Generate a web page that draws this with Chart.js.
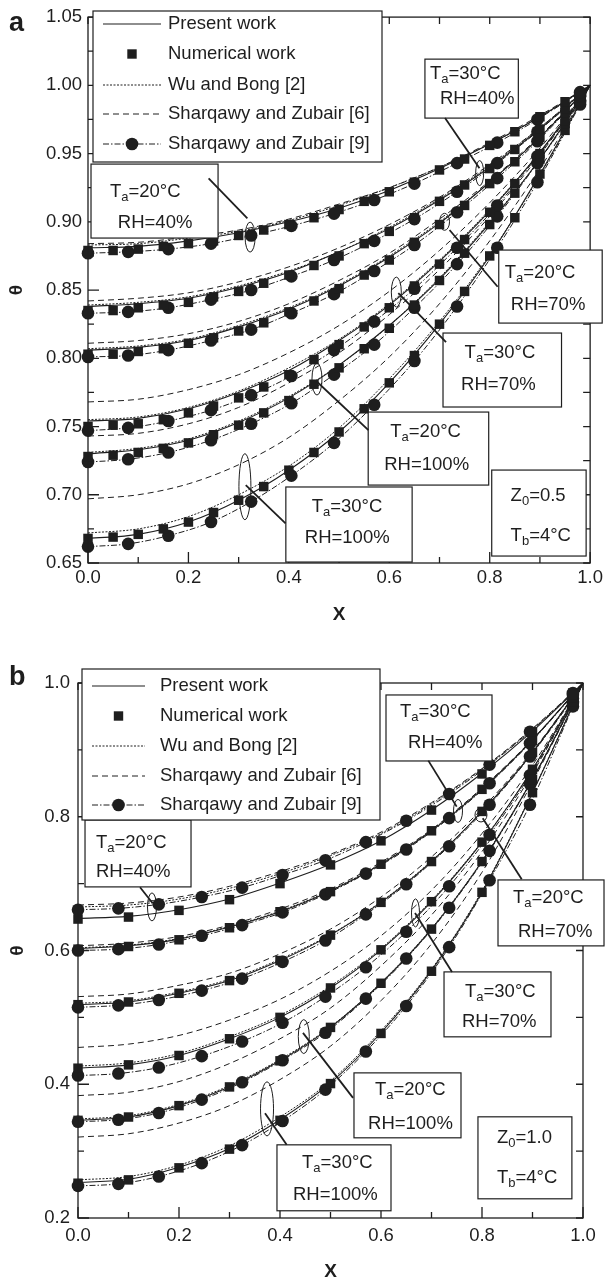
<!DOCTYPE html>
<html>
<head>
<meta charset="utf-8">
<script src="https://cdn.jsdelivr.net/npm/chart.js@4.4.1/dist/chart.umd.min.js"></script>
<style>
  html, body { margin: 0; padding: 0; background: #fff; }
  #wrapA { position: absolute; left: 0; top: 0; width: 607px; height: 640px; }
  #wrapB { position: absolute; left: 0; top: 640px; width: 607px; height: 642px; }
</style>
</head>
<body>
<div id="wrapA"><canvas id="chartA"></canvas></div>
<div id="wrapB"><canvas id="chartB"></canvas></div>
<script>
// x stations of each series
const xLine = [0, 0.1, 0.2, 0.3, 0.4, 0.5, 0.6, 0.7, 0.8, 0.9, 1.0];
const xCircle = [0, 0.08, 0.16, 0.245, 0.325, 0.405, 0.49, 0.57, 0.65, 0.735, 0.815, 0.895, 0.98, 1.0];
const xSquareA = [0, 0.05, 0.1, 0.15, 0.2, 0.25, 0.3, 0.35, 0.4, 0.45, 0.5, 0.55, 0.6, 0.65, 0.7, 0.75, 0.8, 0.85, 0.9, 0.95];
const xSquareB = [0, 0.1, 0.2, 0.3, 0.4, 0.5, 0.6, 0.7, 0.8, 0.9, 0.98];

// axis ticks
const xTicks = [0, 0.2, 0.4, 0.6, 0.8, 1.0];
const xMinorTicks = [0.1, 0.3, 0.5, 0.7, 0.9];
const yTicksA = [0.65, 0.70, 0.75, 0.80, 0.85, 0.90, 0.95, 1.00, 1.05];
const yMinorTicksA = [0.675, 0.725, 0.775, 0.825, 0.875, 0.925, 0.975, 1.025];
const yTicksB = [0.2, 0.4, 0.6, 0.8, 1.0];
const yMinorTicksB = [0.3, 0.5, 0.7, 0.9];

const legendLabels = ['Present work', 'Numerical work', 'Wu and Bong [2]', 'Sharqawy and Zubair [6]', 'Sharqawy and Zubair [9]'];
// row order: Ta=20 RH=40, Ta=30 RH=40, Ta=20 RH=70, Ta=30 RH=70, Ta=20 RH=100, Ta=30 RH=100
const caseLabels = ['Ta=20 RH=40', 'Ta=30 RH=40', 'Ta=20 RH=70', 'Ta=30 RH=70', 'Ta=20 RH=100', 'Ta=30 RH=100'];

// ---- panel a (Z0 = 0.5) ----
const presentA = [
  [0.881, 0.882, 0.886, 0.892, 0.900, 0.910, 0.923, 0.939, 0.957, 0.977, 1.0],
  [0.838, 0.840, 0.844, 0.852, 0.863, 0.878, 0.895, 0.916, 0.940, 0.968, 1.0],
  [0.806, 0.808, 0.813, 0.823, 0.836, 0.853, 0.874, 0.899, 0.929, 0.962, 1.0],
  [0.754, 0.756, 0.763, 0.775, 0.791, 0.813, 0.839, 0.871, 0.908, 0.951, 1.0],
  [0.730, 0.733, 0.740, 0.753, 0.771, 0.795, 0.824, 0.858, 0.899, 0.946, 1.0],
  [0.668, 0.671, 0.680, 0.696, 0.718, 0.746, 0.782, 0.825, 0.875, 0.935, 1.0]
];
const wuA = [
  [0.883, 0.884, 0.888, 0.893, 0.901, 0.912, 0.925, 0.940, 0.957, 0.977, 1.0],
  [0.839, 0.841, 0.845, 0.853, 0.864, 0.878, 0.896, 0.917, 0.941, 0.969, 1.0],
  [0.807, 0.809, 0.814, 0.824, 0.837, 0.854, 0.875, 0.900, 0.929, 0.962, 1.0],
  [0.755, 0.757, 0.764, 0.776, 0.793, 0.814, 0.840, 0.872, 0.909, 0.951, 1.0],
  [0.731, 0.734, 0.741, 0.754, 0.772, 0.795, 0.824, 0.859, 0.900, 0.946, 1.0],
  [0.672, 0.675, 0.684, 0.700, 0.721, 0.749, 0.785, 0.827, 0.876, 0.934, 1.0]
];
const sharqawy6A = [
  [0.884, 0.885, 0.889, 0.894, 0.902, 0.913, 0.925, 0.940, 0.958, 0.978, 1.0],
  [0.842, 0.844, 0.848, 0.856, 0.867, 0.881, 0.898, 0.918, 0.942, 0.969, 1.0],
  [0.811, 0.813, 0.818, 0.827, 0.840, 0.857, 0.877, 0.902, 0.930, 0.963, 1.0],
  [0.768, 0.770, 0.777, 0.788, 0.804, 0.824, 0.849, 0.879, 0.914, 0.954, 1.0],
  [0.743, 0.745, 0.752, 0.764, 0.782, 0.804, 0.832, 0.865, 0.904, 0.949, 1.0],
  [0.697, 0.700, 0.708, 0.722, 0.742, 0.769, 0.801, 0.840, 0.886, 0.939, 1.0]
];
const sharqawy9A = [
  [0.877, 0.878, 0.880, 0.884, 0.890, 0.897, 0.906, 0.916, 0.928, 0.943, 0.958, 0.975, 0.995, 1.0],
  [0.833, 0.834, 0.837, 0.843, 0.850, 0.860, 0.872, 0.886, 0.902, 0.922, 0.943, 0.966, 0.993, 1.0],
  [0.801, 0.802, 0.806, 0.813, 0.821, 0.833, 0.847, 0.864, 0.883, 0.907, 0.932, 0.959, 0.992, 1.0],
  [0.747, 0.749, 0.754, 0.762, 0.773, 0.787, 0.806, 0.827, 0.851, 0.881, 0.912, 0.948, 0.989, 1.0],
  [0.724, 0.726, 0.731, 0.740, 0.752, 0.767, 0.788, 0.810, 0.837, 0.869, 0.904, 0.943, 0.988, 1.0],
  [0.662, 0.664, 0.670, 0.680, 0.695, 0.714, 0.738, 0.766, 0.798, 0.838, 0.881, 0.929, 0.986, 1.0]
];
const numericalA = [
  [0.879, 0.879, 0.880, 0.882, 0.884, 0.886, 0.890, 0.894, 0.898, 0.903, 0.909, 0.915, 0.922, 0.929, 0.938, 0.946, 0.956, 0.966, 0.977, 0.988],
  [0.835, 0.835, 0.837, 0.839, 0.841, 0.845, 0.849, 0.855, 0.861, 0.868, 0.875, 0.884, 0.893, 0.903, 0.915, 0.927, 0.939, 0.953, 0.968, 0.983],
  [0.803, 0.803, 0.805, 0.807, 0.811, 0.815, 0.820, 0.826, 0.834, 0.842, 0.851, 0.861, 0.872, 0.885, 0.898, 0.912, 0.928, 0.944, 0.962, 0.980],
  [0.750, 0.751, 0.752, 0.755, 0.760, 0.765, 0.771, 0.779, 0.788, 0.799, 0.810, 0.823, 0.837, 0.853, 0.869, 0.887, 0.907, 0.928, 0.950, 0.974],
  [0.728, 0.729, 0.731, 0.734, 0.738, 0.744, 0.751, 0.760, 0.769, 0.781, 0.793, 0.807, 0.822, 0.839, 0.857, 0.877, 0.898, 0.921, 0.946, 0.972],
  [0.668, 0.669, 0.671, 0.675, 0.680, 0.687, 0.696, 0.706, 0.718, 0.731, 0.746, 0.763, 0.782, 0.802, 0.825, 0.849, 0.875, 0.903, 0.935, 0.967]
];

// ---- panel b (Z0 = 1.0) ----
const presentB = [
  [0.648, 0.651, 0.661, 0.677, 0.701, 0.729, 0.764, 0.810, 0.865, 0.928, 1.0],
  [0.603, 0.607, 0.617, 0.635, 0.658, 0.689, 0.729, 0.779, 0.841, 0.915, 1.0],
  [0.519, 0.523, 0.536, 0.555, 0.585, 0.623, 0.672, 0.733, 0.808, 0.896, 1.0],
  [0.424, 0.429, 0.443, 0.468, 0.500, 0.544, 0.601, 0.673, 0.762, 0.871, 1.0],
  [0.346, 0.351, 0.368, 0.396, 0.435, 0.485, 0.551, 0.632, 0.733, 0.856, 1.0],
  [0.253, 0.258, 0.276, 0.304, 0.347, 0.402, 0.477, 0.570, 0.687, 0.836, 1.0]
];
const wuB = [
  [0.665, 0.668, 0.677, 0.693, 0.715, 0.742, 0.775, 0.819, 0.871, 0.931, 1.0],
  [0.604, 0.608, 0.618, 0.636, 0.659, 0.690, 0.730, 0.780, 0.842, 0.915, 1.0],
  [0.521, 0.525, 0.538, 0.557, 0.587, 0.624, 0.673, 0.734, 0.808, 0.896, 1.0],
  [0.427, 0.432, 0.446, 0.471, 0.503, 0.547, 0.603, 0.675, 0.763, 0.871, 1.0],
  [0.348, 0.353, 0.370, 0.398, 0.437, 0.486, 0.552, 0.633, 0.734, 0.857, 1.0],
  [0.257, 0.262, 0.279, 0.308, 0.351, 0.405, 0.480, 0.572, 0.689, 0.837, 1.0]
];
const sharqawy6B = [
  [0.668, 0.671, 0.680, 0.696, 0.718, 0.744, 0.777, 0.821, 0.872, 0.932, 1.0],
  [0.607, 0.611, 0.621, 0.638, 0.662, 0.692, 0.732, 0.781, 0.843, 0.916, 1.0],
  [0.531, 0.535, 0.548, 0.566, 0.595, 0.632, 0.680, 0.740, 0.812, 0.898, 1.0],
  [0.455, 0.460, 0.473, 0.496, 0.527, 0.569, 0.622, 0.690, 0.775, 0.877, 1.0],
  [0.383, 0.388, 0.404, 0.431, 0.468, 0.514, 0.577, 0.653, 0.748, 0.865, 1.0],
  [0.321, 0.326, 0.342, 0.368, 0.407, 0.457, 0.525, 0.610, 0.717, 0.852, 1.0]
];
const sharqawy9B = [
  [0.661, 0.663, 0.669, 0.680, 0.694, 0.713, 0.735, 0.762, 0.794, 0.834, 0.878, 0.927, 0.985, 1.0],
  [0.600, 0.602, 0.609, 0.622, 0.638, 0.657, 0.684, 0.715, 0.751, 0.798, 0.850, 0.910, 0.982, 1.0],
  [0.515, 0.518, 0.526, 0.540, 0.558, 0.583, 0.615, 0.654, 0.699, 0.756, 0.818, 0.890, 0.977, 1.0],
  [0.413, 0.416, 0.425, 0.442, 0.464, 0.492, 0.531, 0.575, 0.628, 0.696, 0.773, 0.862, 0.972, 1.0],
  [0.344, 0.347, 0.357, 0.377, 0.403, 0.436, 0.477, 0.528, 0.588, 0.664, 0.749, 0.849, 0.970, 1.0],
  [0.248, 0.251, 0.262, 0.282, 0.309, 0.345, 0.392, 0.449, 0.517, 0.605, 0.705, 0.818, 0.965, 1.0]
];
const numericalB = [
  [0.647, 0.650, 0.660, 0.676, 0.700, 0.728, 0.764, 0.810, 0.864, 0.927, 0.985],
  [0.602, 0.606, 0.616, 0.634, 0.658, 0.688, 0.729, 0.779, 0.841, 0.914, 0.982],
  [0.519, 0.523, 0.536, 0.555, 0.585, 0.623, 0.672, 0.733, 0.808, 0.896, 0.978],
  [0.424, 0.429, 0.443, 0.468, 0.500, 0.544, 0.601, 0.673, 0.762, 0.871, 0.972],
  [0.346, 0.351, 0.368, 0.396, 0.435, 0.485, 0.551, 0.632, 0.733, 0.856, 0.970],
  [0.252, 0.257, 0.275, 0.303, 0.346, 0.401, 0.476, 0.569, 0.687, 0.836, 0.965]
];

const INK = '#1e1e1e';
const FONT = '"Liberation Sans", Arial, Helvetica, sans-serif';
const NOTE_FONT = '18.5px ' + FONT;
const SUB_FONT = '13px ' + FONT;

// callout boxes, in data units: box [xLeft, yTop, xRight, yBottom],
// text rows [x, y, parts] (second part is a subscript), pointer, ring [x, y, rxPx, ryPx]
const notesA = [
  { box: [0.006, 0.9423, 0.259, 0.8881], rows: [[0.0436, 0.9218, ['T', 'a', '=20°C']], [0.0594, 0.8991, ['RH=40%']]],
    pointer: [[0.2402, 0.9318], [0.3174, 0.9025]], ring: [0.3228, 0.8888, 5, 15] },
  { box: [0.671, 1.0192, 0.857, 0.976], rows: [[0.681, 1.0082, ['T', 'a', '=30°C']], [0.701, 0.9899, ['RH=40%']]],
    pointer: [[0.711, 0.976], [0.7796, 0.9392]], ring: [0.780, 0.9357, 4, 12.5] },
  { box: [0.818, 0.8793, 1.024, 0.8258], rows: [[0.830, 0.8625, ['T', 'a', '=20°C']], [0.842, 0.839, ['RH=70%']]],
    pointer: [[0.8158, 0.8524], [0.720, 0.894]], ring: [0.710, 0.900, 5, 8.5] },
  { box: [0.707, 0.8185, 0.943, 0.7643], rows: [[0.750, 0.8038, ['T', 'a', '=30°C']], [0.743, 0.7804, ['RH=70%']]],
    pointer: [[0.618, 0.8478], [0.713, 0.8119]], ring: [0.614, 0.8485, 5, 15] },
  { box: [0.558, 0.7606, 0.798, 0.7071], rows: [[0.602, 0.746, ['T', 'a', '=20°C']], [0.590, 0.7218, ['RH=100%']]],
    pointer: [[0.456, 0.7828], [0.5584, 0.7474]], ring: [0.456, 0.7848, 5, 16] },
  { box: [0.394, 0.7057, 0.6455, 0.6507], rows: [[0.4455, 0.691, ['T', 'a', '=30°C']], [0.4317, 0.6683, ['RH=100%']]],
    pointer: [[0.3934, 0.679], [0.3142, 0.7071]], ring: [0.3125, 0.7059, 6, 33] },
  { box: [0.804, 0.7181, 0.992, 0.6551], rows: [[0.8416, 0.699, ['Z', '0', '=0.5']], [0.8416, 0.6698, ['T', 'b', '=4°C']]] }
];
const notesB = [
  { box: [0.0139, 0.7952, 0.2238, 0.6951], rows: [[0.0356, 0.7608, ['T', 'a', '=20°C']], [0.0356, 0.7175, ['RH=40%']]],
    pointer: [[0.1228, 0.6946], [0.1479, 0.6707]], ring: [0.1465, 0.6652, 4.5, 14] },
  { box: [0.6099, 0.9821, 0.8198, 0.8834], rows: [[0.6376, 0.9567, ['T', 'a', '=30°C']], [0.6535, 0.9103, ['RH=40%']]],
    pointer: [[0.6937, 0.8839], [0.7499, 0.8151]], ring: [0.7525, 0.8087, 4.5, 11.5] },
  { box: [0.8317, 0.7055, 1.0416, 0.6069], rows: [[0.8614, 0.6786, ['T', 'a', '=20°C']], [0.8713, 0.6278, ['RH=70%']]],
    pointer: [[0.8786, 0.7066], [0.8014, 0.7978]], ring: [0.798, 0.8027, 6, 7] },
  { box: [0.7248, 0.568, 0.9366, 0.4709], rows: [[0.7663, 0.5381, ['T', 'a', '=30°C']], [0.7604, 0.4933, ['RH=70%']]],
    pointer: [[0.6673, 0.6562], [0.7406, 0.568]], ring: [0.6683, 0.6562, 4, 14] },
  { box: [0.5465, 0.417, 0.7584, 0.3199], rows: [[0.5881, 0.3916, ['T', 'a', '=20°C']], [0.5743, 0.3408, ['RH=100%']]],
    pointer: [[0.4455, 0.4768], [0.5446, 0.3797]], ring: [0.4471, 0.4713, 5.5, 17] },
  { box: [0.394, 0.3094, 0.6198, 0.2108], rows: [[0.4436, 0.2825, ['T', 'a', '=30°C']], [0.4257, 0.2347, ['RH=100%']]],
    pointer: [[0.4132, 0.3094], [0.3703, 0.3568]], ring: [0.3743, 0.3632, 6.5, 27] },
  { box: [0.792, 0.3513, 0.978, 0.2287], rows: [[0.8297, 0.3199, ['Z', '0', '=1.0']], [0.8297, 0.2601, ['T', 'b', '=4°C']]] }
];

function pts(xs, ys) {
  return xs.map((x, i) => ({ x: x, y: ys[i] }));
}

function buildDatasets(p) {
  const common = { borderColor: INK, fill: false, showLine: true, cubicInterpolationMode: 'monotone', pointRadius: 0 };
  const sets = [];
  p.present.forEach((row, i) => {
    sets.push(Object.assign({ label: caseLabels[i] + ' present', data: pts(xLine, row), borderWidth: 1.1, order: 3 }, common));
    sets.push(Object.assign({ label: caseLabels[i] + ' Wu', data: pts(xLine, p.wu[i]), borderWidth: 1, borderDash: [2, 1.5], order: 3 }, common));
    sets.push(Object.assign({ label: caseLabels[i] + ' [6]', data: pts(xLine, p.sh6[i]), borderWidth: 1, borderDash: [6, 4], order: 3 }, common));
    sets.push(Object.assign({}, common, {
      label: caseLabels[i] + ' [9]', data: pts(xCircle, p.sh9[i]), borderWidth: 1, borderDash: [6, 2, 1.5, 2],
      pointStyle: 'circle', pointRadius: c => (c.dataIndex === xCircle.length - 1 ? 0 : 6.3),
      pointBackgroundColor: INK, pointBorderWidth: 0, order: 1, clip: false
    }));
    sets.push({
      label: caseLabels[i] + ' numerical', data: pts(p.xSquare, p.num[i]), showLine: false,
      pointStyle: 'rect', pointRadius: 6.7, pointBackgroundColor: INK, pointBorderColor: INK, pointBorderWidth: 0,
      order: 0, clip: false
    });
  });
  return sets;
}

function drawParts(ctx, x, y, parts) {
  let cx = x;
  parts.forEach((t, i) => {
    const sub = parts.length > 1 && i === 1;
    ctx.font = sub ? SUB_FONT : NOTE_FONT;
    ctx.fillText(t, cx, sub ? y + 5.5 : y);
    cx += ctx.measureText(t).width;
  });
}

function paperPlugin(cfg) {
  return {
    id: 'paper' + cfg.letter,
    afterDatasetsDraw(chart) {
      const ctx = chart.ctx;
      const { left, right, top, bottom } = chart.chartArea;
      const sx = chart.scales.x, sy = chart.scales.y;
      const X = v => sx.getPixelForValue(v);
      const Y = v => sy.getPixelForValue(v);
      ctx.save();
      ctx.strokeStyle = INK;
      ctx.fillStyle = INK;

      // frame with inward ticks
      ctx.lineWidth = 1.3;
      ctx.beginPath();
      const tickX = (v, len) => {
        const p = X(v);
        ctx.moveTo(p, bottom); ctx.lineTo(p, bottom - len);
        ctx.moveTo(p, top); ctx.lineTo(p, top + 7);
      };
      const tickY = (v, len) => {
        const p = Y(v);
        ctx.moveTo(left, p); ctx.lineTo(left + len, p);
        ctx.moveTo(right, p); ctx.lineTo(right - 7, p);
      };
      xTicks.forEach(v => tickX(v, 11));
      xMinorTicks.forEach(v => tickX(v, 6));
      cfg.yTicks.forEach(v => tickY(v, 11));
      cfg.yMinor.forEach(v => tickY(v, 6));
      ctx.stroke();
      ctx.strokeRect(left, top, right - left, bottom - top);

      // callouts
      ctx.textBaseline = 'middle';
      ctx.textAlign = 'left';
      cfg.notes.forEach(n => {
        const bx = X(n.box[0]), by = Y(n.box[1]);
        const bw = X(n.box[2]) - bx, bh = Y(n.box[3]) - by;
        ctx.fillStyle = '#fff';
        ctx.fillRect(bx, by, bw, bh);
        ctx.lineWidth = 1.2;
        ctx.strokeRect(bx, by, bw, bh);
        ctx.fillStyle = INK;
        n.rows.forEach(r => drawParts(ctx, X(r[0]), Y(r[1]), r[2]));
        if (n.pointer) {
          ctx.lineWidth = 1.8;
          ctx.beginPath();
          ctx.moveTo(X(n.pointer[0][0]), Y(n.pointer[0][1]));
          ctx.lineTo(X(n.pointer[1][0]), Y(n.pointer[1][1]));
          ctx.stroke();
        }
        if (n.ring) {
          ctx.lineWidth = 1;
          ctx.beginPath();
          ctx.ellipse(X(n.ring[0]), Y(n.ring[1]), n.ring[2], n.ring[3], 0, 0, Math.PI * 2);
          ctx.stroke();
        }
      });

      // legend box
      const L = cfg.legend;
      ctx.fillStyle = '#fff';
      ctx.fillRect(L.x0, L.y0, L.x1 - L.x0, L.y1 - L.y0);
      ctx.lineWidth = 1.2;
      ctx.strokeRect(L.x0, L.y0, L.x1 - L.x0, L.y1 - L.y0);
      ctx.fillStyle = INK;
      const mid = (L.s0 + L.s1) / 2;
      const dashes = [[], null, [2, 1.5], [6, 4], [6, 2, 1.5, 2]];
      legendLabels.forEach((label, i) => {
        const y = L.rows[i];
        if (dashes[i]) {
          ctx.setLineDash(dashes[i]);
          ctx.lineWidth = i === 0 ? 1.1 : 1;
          ctx.beginPath();
          ctx.moveTo(L.s0, y); ctx.lineTo(L.s1, y);
          ctx.stroke();
          ctx.setLineDash([]);
        }
        if (i === 1) ctx.fillRect(mid - 4.7, y - 4.7, 9.4, 9.4);
        if (i === 4) {
          ctx.beginPath();
          ctx.arc(mid, y, 6.3, 0, Math.PI * 2);
          ctx.fill();
        }
        ctx.font = NOTE_FONT;
        ctx.fillText(label, L.tx, y);
      });

      // panel letter
      ctx.font = 'bold 27px ' + FONT;
      ctx.fillText(cfg.letter, 9, cfg.letterY);
      ctx.restore();
    }
  };
}

function makeChart(id, cfg) {
  const tickFont = { family: FONT, size: 18.5 };
  return new Chart(document.getElementById(id), {
    type: 'line',
    data: { datasets: buildDatasets(cfg) },
    options: {
      responsive: true,
      maintainAspectRatio: false,
      animation: false,
      devicePixelRatio: 1,
      events: [],
      layout: { padding: cfg.padding },
      plugins: { legend: { display: false }, tooltip: { enabled: false } },
      scales: {
        x: {
          type: 'linear', min: 0, max: 1,
          afterBuildTicks: s => { s.ticks = xTicks.map(v => ({ value: v })); },
          afterFit: s => { s.height = cfg.xHeight; },
          ticks: { callback: v => v.toFixed(1), color: INK, font: tickFont, padding: cfg.xPad, maxRotation: 0, autoSkip: false },
          grid: { display: false, drawTicks: false },
          border: { display: false },
          title: { display: true, text: 'X', color: INK, font: { family: FONT, size: 19, weight: 'bold', lineHeight: 1 }, padding: { top: 0, bottom: cfg.xTitlePad } }
        },
        y: {
          type: 'linear', min: cfg.yMin, max: cfg.yMax,
          afterBuildTicks: s => { s.ticks = cfg.yTicks.map(v => ({ value: v })); },
          afterFit: s => { s.width = cfg.yWidth; },
          ticks: { callback: v => v.toFixed(cfg.yDigits), color: INK, font: tickFont, padding: cfg.yPad, autoSkip: false },
          grid: { display: false, drawTicks: false },
          border: { display: false },
          title: { display: true, text: 'θ', color: INK, font: { family: FONT, size: 19, weight: 'bold', lineHeight: 1 }, padding: { top: cfg.yTitlePad, bottom: 0 } }
        }
      }
    },
    plugins: [paperPlugin(cfg)]
  });
}

makeChart('chartA', {
  letter: 'a', letterY: 24,
  present: presentA, wu: wuA, sh6: sharqawy6A, sh9: sharqawy9A, num: numericalA, xSquare: xSquareA,
  yMin: 0.65, yMax: 1.05, yTicks: yTicksA, yMinor: yMinorTicksA, yDigits: 2,
  padding: { left: 0, right: 14, top: 17, bottom: 0 },
  xHeight: 77, yWidth: 88, xPad: 4, yPad: 6, xTitlePad: 16, yTitlePad: 7.5,
  notes: notesA,
  legend: { x0: 93, y0: 11, x1: 382, y1: 162, rows: [24, 54, 85, 114, 144], s0: 103, s1: 161, tx: 168 }
});

makeChart('chartB', {
  letter: 'b', letterY: 38,
  present: presentB, wu: wuB, sh6: sharqawy6B, sh9: sharqawy9B, num: numericalB, xSquare: xSquareB,
  yMin: 0.2, yMax: 1.0, yTicks: yTicksB, yMinor: yMinorTicksB, yDigits: 1,
  padding: { left: 0, right: 24, top: 43, bottom: 0 },
  xHeight: 64, yWidth: 78, xPad: 7, yPad: 8, xTitlePad: 0.5, yTitlePad: 8.5,
  notes: notesB,
  legend: { x0: 82, y0: 29, x1: 380, y1: 180, rows: [46, 76, 106, 136, 165], s0: 92, s1: 145, tx: 160 }
});
</script>
</body>
</html>
